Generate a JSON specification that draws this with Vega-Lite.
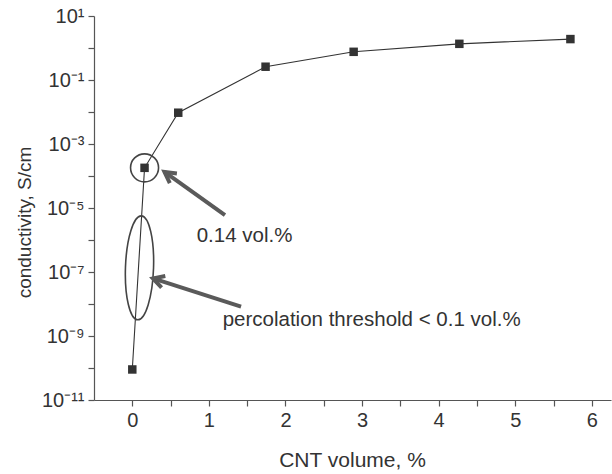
{
  "$schema": "https://vega.github.io/schema/vega-lite/v6.json",
  "width": 517,
  "height": 384,
  "autosize": {"type": "none"},
  "padding": {"left": 94, "top": 16, "right": 1, "bottom": 74},
  "background": "white",
  "config": {
    "view": {"stroke": null},
    "font": "Liberation Sans",
    "axis": {
      "grid": false,
      "domainColor": "#555",
      "domainWidth": 1.2,
      "tickColor": "#555",
      "tickWidth": 1.2,
      "tickSize": 6,
      "labelColor": "#333",
      "labelFont": "Liberation Sans",
      "labelFontSize": 20,
      "labelPadding": 4,
      "titleFont": "Liberation Sans",
      "titleFontSize": 20,
      "titleFontWeight": "normal",
      "titleColor": "#333"
    }
  },
  "layer": [
    {
      "data": {"values": [
        {"vol": 0.0, "cond": 9e-11},
        {"vol": 0.16, "cond": 1.8e-4},
        {"vol": 0.60, "cond": 9.5e-3},
        {"vol": 1.74, "cond": 0.26},
        {"vol": 2.89, "cond": 0.76},
        {"vol": 4.27, "cond": 1.35},
        {"vol": 5.72, "cond": 1.9}
      ]},
      "layer": [
        {"mark": {"type": "line", "color": "#333", "strokeWidth": 1.1}},
        {"mark": {"type": "point", "shape": "square", "filled": true, "size": 72, "color": "#333", "opacity": 1}}
      ],
      "encoding": {
        "x": {
          "field": "vol", "type": "quantitative",
          "scale": {"domain": [-0.5, 6.25], "nice": false, "zero": false},
          "axis": {
            "title": "CNT volume, %",
            "titleFontSize": 21,
            "values": [0, 0.5, 1, 1.5, 2, 2.5, 3, 3.5, 4, 4.5, 5, 5.5, 6],
            "labelExpr": "datum.value % 1 === 0 ? format(datum.value, 'd') : ''",
            "titleX": 258,
            "titleY": 60,
            "titleBaseline": "middle"
          }
        },
        "y": {
          "field": "cond", "type": "quantitative",
          "scale": {"type": "log", "domain": [1e-11, 10], "nice": false},
          "axis": {
            "title": "conductivity, S/cm",
            "titleFontSize": 19,
            "values": [1e-11, 1e-10, 1e-9, 1e-8, 1e-7, 1e-6, 1e-5, 1e-4, 1e-3, 1e-2, 1e-1, 1, 10],
            "labelExpr": "['10⁻¹¹','','10⁻⁹','','10⁻⁷','','10⁻⁵','','10⁻³','','10⁻¹','','10¹'][round(log(datum.value)/LN10)+11]",
            "titleX": -70,
            "titleY": 206,
            "titleBaseline": "middle"
          }
        }
      }
    },
    {
      "data": {"values": [{"vol": 0.16, "cond": 1.8e-4}]},
      "mark": {"type": "point", "shape": "circle", "filled": false, "size": 784, "color": "#444", "strokeWidth": 1.6, "opacity": 1},
      "encoding": {
        "x": {"field": "vol", "type": "quantitative"},
        "y": {"field": "cond", "type": "quantitative"}
      }
    },
    {
      "data": {"values": [{"vol": 0.094, "cond": 1.35e-7}]},
      "mark": {"type": "point", "shape": "M0,-1 A0.27,1 0 1,1 0,1 A0.27,1 0 1,1 0,-1 Z", "filled": false, "size": 10816, "angle": 2, "color": "#444", "strokeWidth": 1.6, "opacity": 1},
      "encoding": {
        "x": {"field": "vol", "type": "quantitative"},
        "y": {"field": "cond", "type": "quantitative"}
      }
    },
    {
      "data": {"values": [
        {"vol": 0.42, "cond": 1.35e-4, "vol2": 1.21, "cond2": 6.0e-6},
        {"vol": 0.27, "cond": 6.3e-8, "vol2": 1.42, "cond2": 8.3e-9}
      ]},
      "mark": {"type": "rule", "color": "#5a5a5a", "strokeWidth": 4},
      "encoding": {
        "x": {"field": "vol", "type": "quantitative"},
        "y": {"field": "cond", "type": "quantitative"},
        "x2": {"field": "vol2"},
        "y2": {"field": "cond2"}
      }
    },
    {
      "data": {"values": [{"vol": 0.42, "cond": 1.35e-4}]},
      "mark": {"type": "point", "shape": "M-0.55,1 L0,0 L0.55,1", "filled": false, "size": 484, "angle": 306, "color": "#5a5a5a", "strokeWidth": 4, "opacity": 1},
      "encoding": {
        "x": {"field": "vol", "type": "quantitative"},
        "y": {"field": "cond", "type": "quantitative"}
      }
    },
    {
      "data": {"values": [{"vol": 0.27, "cond": 6.3e-8}]},
      "mark": {"type": "point", "shape": "M-0.55,1 L0,0 L0.55,1", "filled": false, "size": 484, "angle": 288, "color": "#5a5a5a", "strokeWidth": 4, "opacity": 1},
      "encoding": {
        "x": {"field": "vol", "type": "quantitative"},
        "y": {"field": "cond", "type": "quantitative"}
      }
    },
    {
      "data": {"values": [
        {"vol": 0.84, "cond": 1.35e-6, "label": "0.14 vol.%"},
        {"vol": 1.18, "cond": 3.16e-9, "label": "percolation threshold < 0.1 vol.%"}
      ]},
      "mark": {"type": "text", "align": "left", "baseline": "middle", "fontSize": 20.5, "font": "Liberation Sans", "color": "#333"},
      "encoding": {
        "x": {"field": "vol", "type": "quantitative"},
        "y": {"field": "cond", "type": "quantitative"},
        "text": {"field": "label"}
      }
    }
  ]
}
